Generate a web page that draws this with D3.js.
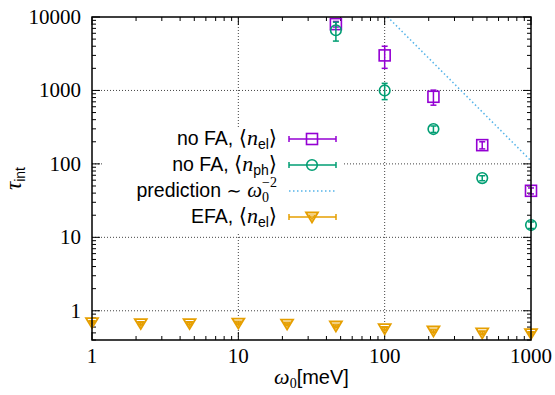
<!DOCTYPE html>
<html>
<head>
<meta charset="utf-8">
<script src="https://cdn.jsdelivr.net/npm/d3@7"></script>
<style>
  body { margin: 0; background: #fff; }
  svg { display: block; }
</style>
</head>
<body>
<div id="chart"></div>
<script>
// valores
var omega = [1, 2.154, 4.642, 10, 21.54, 46.42, 100, 215.4, 464.2, 1000];
var efaY = [0.69, 0.67, 0.67, 0.68, 0.66, 0.62, 0.57, 0.53, 0.50, 0.49];
var efaErr = [0.02, 0.02, 0.02, 0.02, 0.02, 0.02, 0.02, 0.02, 0.02, 0.02];

var noFaX = [46.42, 100, 215.4, 464.2, 1000];
var elY = [8000, 3000, 820, 180, 43];
var elErr = [700, 1000, 190, 20, 4];
var phY = [6600, 1000, 298, 64, 14.7];
var phErr = [1900, 250, 30, 5, 1.5];

var predX = [100, 1000];
var predY = [11000, 110];

var xTicks = [1, 10, 100, 1000];
var yTicks = [1, 10, 100, 1000, 10000];

var width = 555, height = 395;
var margin = {left: 92, right: 24, top: 17, bottom: 55};

var svg = d3.select("#chart").append("svg")
    .attr("width", width)
    .attr("height", height);

var x = d3.scaleLog().domain([1, 1000]).range([margin.left, width - margin.right]);
var y = d3.scaleLog().domain([0.4, 10000]).range([height - margin.bottom, margin.top]);

var x0 = x.range()[0], x1 = x.range()[1];
var y0 = y.range()[0], y1 = y.range()[1];

var cores = {el: "#9400d3", ph: "#009e73", pred: "#56b4e9", efa: "#e69f00"};

// grade
var grid = svg.append("g").attr("stroke", "#444").attr("stroke-width", 1).attr("stroke-dasharray", "1,2");
grid.selectAll(".gx").data(xTicks.slice(1, -1)).enter().append("line")
    .attr("x1", function(d) { return x(d); }).attr("x2", function(d) { return x(d); })
    .attr("y1", y0).attr("y2", y1);
grid.selectAll(".gy").data(yTicks.slice(0, -1)).enter().append("line")
    .attr("x1", x0).attr("x2", x1)
    .attr("y1", function(d) { return y(d); }).attr("y2", function(d) { return y(d); });

// ticks menores e maiores (espelhados)
var minorX = [], minorY = [];
[1, 10, 100].forEach(function(b) { for (var k = 2; k < 10; k++) minorX.push(b * k); });
[0.1, 1, 10, 100, 1000].forEach(function(b) {
    for (var k = 2; k < 10; k++) { var v = b * k; if (v >= 0.4 && v < 10000) minorY.push(v); }
});

var ticks = svg.append("g").attr("stroke", "#000").attr("stroke-width", 1);
function tickX(vals, len) {
    vals.forEach(function(v) {
        ticks.append("line").attr("x1", x(v)).attr("x2", x(v)).attr("y1", y0).attr("y2", y0 - len);
        ticks.append("line").attr("x1", x(v)).attr("x2", x(v)).attr("y1", y1).attr("y2", y1 + len);
    });
}
function tickY(vals, len) {
    vals.forEach(function(v) {
        ticks.append("line").attr("y1", y(v)).attr("y2", y(v)).attr("x1", x0).attr("x2", x0 + len);
        ticks.append("line").attr("y1", y(v)).attr("y2", y(v)).attr("x1", x1).attr("x2", x1 - len);
    });
}
tickX(xTicks, 8); tickX(minorX, 4);
tickY(yTicks, 8); tickY(minorY, 4);

// rotulos dos eixos
svg.append("g").selectAll("text").data(xTicks).enter().append("text")
    .attr("x", function(d) { return x(d); })
    .attr("y", y0 + 23)
    .attr("text-anchor", "middle")
    .style("font-family", "'Liberation Serif', serif")
    .style("font-size", "21px")
    .text(function(d) { return d; });

svg.append("g").selectAll("text").data(yTicks).enter().append("text")
    .attr("x", x0 - 11)
    .attr("y", function(d) { return y(d) + 7; })
    .attr("text-anchor", "end")
    .style("font-family", "'Liberation Serif', serif")
    .style("font-size", "21px")
    .text(function(d) { return d; });

var xl = svg.append("text").attr("x", (x0 + x1) / 2).attr("y", 384).attr("text-anchor", "middle");
xl.append("tspan").style("font-family", "'Liberation Serif', serif").style("font-style", "italic").style("font-size", "22px").text("ω");
xl.append("tspan").style("font-family", "'Liberation Serif', serif").style("font-size", "14px").attr("dy", 4).text("0");
xl.append("tspan").style("font-family", "'Liberation Sans', sans-serif").style("font-size", "20px").attr("dy", -4).text("[meV]");

var yl = svg.append("text").attr("transform", "translate(21," + ((y0 + y1) / 2) + ") rotate(-90)").attr("text-anchor", "middle");
yl.append("tspan").style("font-family", "'Liberation Serif', serif").style("font-style", "italic").style("font-size", "23px").text("τ");
yl.append("tspan").style("font-family", "'Liberation Sans', sans-serif").style("font-size", "14px").attr("dy", 4).text("int");

// linha de predicao
svg.append("clipPath").attr("id", "clip").append("rect")
    .attr("x", x0).attr("y", y1).attr("width", x1 - x0).attr("height", y0 - y1);

var linha = d3.line().x(function(d, i) { return x(predX[i]); }).y(function(d) { return y(d); });
svg.append("path").datum(predY)
    .attr("clip-path", "url(#clip)")
    .attr("d", linha)
    .attr("fill", "none")
    .attr("stroke", cores.pred)
    .attr("stroke-width", 1.5)
    .attr("stroke-dasharray", "1.5,2.5");

// marcadores
function marcador(g, tipo, cor) {
    if (tipo == "square") {
        g.append("rect").attr("x", -5.5).attr("y", -5.5).attr("width", 11).attr("height", 11)
            .attr("fill", "none").attr("stroke", cor).attr("stroke-width", 1.6);
    } else if (tipo == "circle") {
        g.append("circle").attr("r", 5.3).attr("fill", "none").attr("stroke", cor).attr("stroke-width", 1.6);
    } else {
        g.append("path").attr("d", "M-6,-4.5L6,-4.5L0,5.5Z").attr("fill", "none")
            .attr("stroke", cor).attr("stroke-width", 1.8).attr("stroke-linejoin", "miter");
        g.append("path").attr("d", "M-3,-2L3,-2L0,2.5Z").attr("fill", "none")
            .attr("stroke", cor).attr("stroke-width", 1.2);
    }
}

function serie(xs, ys, errs, tipo, cor) {
    var g = svg.append("g");
    xs.forEach(function(xv, i) {
        var px = x(xv), py = y(ys[i]);
        var top = y(ys[i] + errs[i]), bot = y(ys[i] - errs[i]);
        g.append("line").attr("x1", px).attr("x2", px).attr("y1", top).attr("y2", bot)
            .attr("stroke", cor).attr("stroke-width", 1.5);
        g.append("line").attr("x1", px - 3).attr("x2", px + 3).attr("y1", top).attr("y2", top)
            .attr("stroke", cor).attr("stroke-width", 1.5);
        g.append("line").attr("x1", px - 3).attr("x2", px + 3).attr("y1", bot).attr("y2", bot)
            .attr("stroke", cor).attr("stroke-width", 1.5);
        var m = g.append("g").attr("transform", "translate(" + px + "," + py + ")");
        marcador(m, tipo, cor);
    });
}

// legenda (caixa opaca)
svg.append("rect").attr("x", 102).attr("y", 127).attr("width", 241).attr("height", 107).attr("fill", "#fff");

serie(noFaX, elY, elErr, "square", cores.el);
serie(noFaX, phY, phErr, "circle", cores.ph);
serie(omega, efaY, efaErr, "triangle", cores.efa);

// borda
svg.append("rect").attr("x", x0).attr("y", y1).attr("width", x1 - x0).attr("height", y0 - y1)
    .attr("fill", "none").attr("stroke", "#000").attr("stroke-width", 1.5);

var legenda = [
    {nome: "no FA, ", sub: "el", cor: cores.el, tipo: "square"},
    {nome: "no FA, ", sub: "ph", cor: cores.ph, tipo: "circle"},
    {nome: "prediction", cor: cores.pred, tipo: "line"},
    {nome: "EFA, ", sub: "el", cor: cores.efa, tipo: "triangle"}
];
var sans = "'Liberation Sans', sans-serif", serif = "'Liberation Serif', serif";

legenda.forEach(function(d, i) {
    var ly = 139 + i * 26;
    var t = svg.append("text").attr("x", 277).attr("y", ly + 6).attr("text-anchor", "end");
    if (d.tipo == "line") {
        t.append("tspan").style("font-family", sans).style("font-size", "19.5px").text("prediction ");
        t.append("tspan").style("font-family", "'DejaVu Sans', sans-serif").style("font-size", "18px").text("∼ ");
        t.append("tspan").style("font-family", serif).style("font-style", "italic").style("font-size", "21px").text("ω");
        t.append("tspan").style("font-family", serif).style("font-size", "14px").attr("dy", 5).text("0");
        t.append("tspan").style("font-family", serif).style("font-size", "14px").attr("dx", -7).attr("dy", -15).text("−2");
        svg.append("line").attr("x1", 289).attr("x2", 336).attr("y1", ly).attr("y2", ly)
            .attr("stroke", d.cor).attr("stroke-width", 1.5).attr("stroke-dasharray", "1.5,2.5");
        return;
    }
    t.append("tspan").style("font-family", sans).style("font-size", "19.5px").text(d.nome);
    t.append("tspan").style("font-family", "'DejaVu Sans', sans-serif").style("font-size", "21px").text("⟨");
    t.append("tspan").style("font-family", serif).style("font-style", "italic").style("font-size", "22px").text("n");
    t.append("tspan").style("font-family", sans).style("font-size", "14px").attr("dy", 4).text(d.sub);
    t.append("tspan").style("font-family", "'DejaVu Sans', sans-serif").style("font-size", "21px").attr("dy", -4).text("⟩");

    svg.append("line").attr("x1", 289).attr("x2", 336).attr("y1", ly).attr("y2", ly)
        .attr("stroke", d.cor).attr("stroke-width", 1.5);
    [289, 336].forEach(function(ex) {
        svg.append("line").attr("x1", ex).attr("x2", ex).attr("y1", ly - 3).attr("y2", ly + 3)
            .attr("stroke", d.cor).attr("stroke-width", 1.5);
    });
    var m = svg.append("g").attr("transform", "translate(312," + ly + ")");
    marcador(m, d.tipo, d.cor);
});
</script>
</body>
</html>
